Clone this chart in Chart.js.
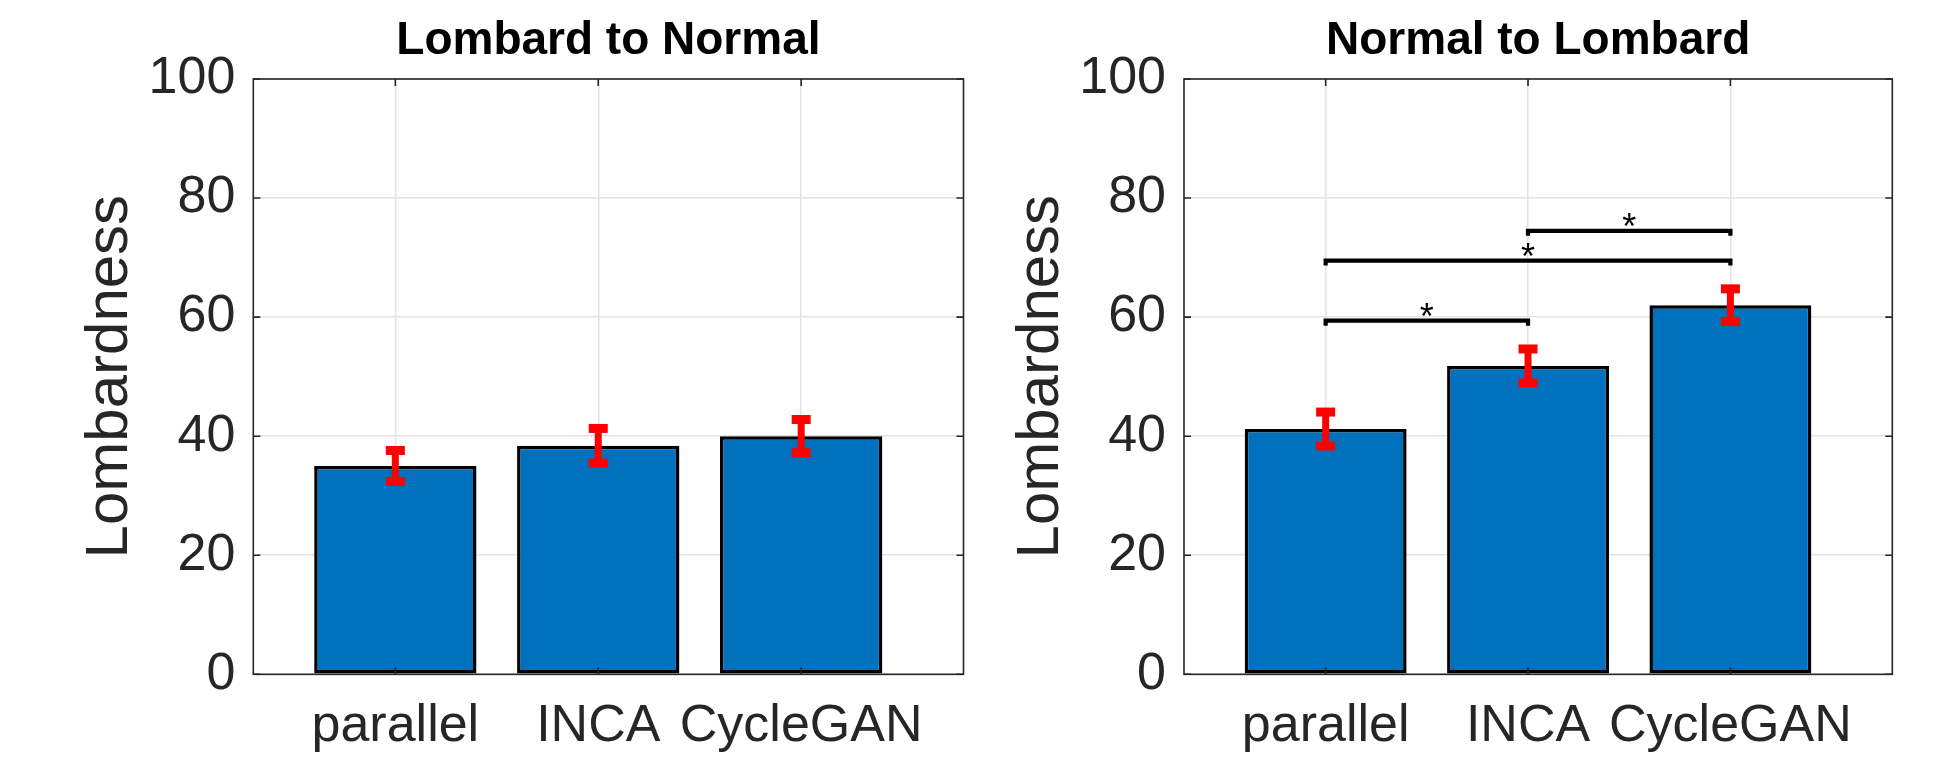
<!DOCTYPE html>
<html><head><meta charset="utf-8">
<script src="https://cdn.jsdelivr.net/npm/chart.js@4/dist/chart.umd.min.js"></script>
<style>
html,body{margin:0;padding:0;background:#fff;}
#wrap{position:relative;width:1943px;height:765px;background:#fff;}
canvas{position:absolute;top:0;}
</style></head><body>
<div id="wrap">
<canvas id="c1" width="980" height="765" style="left:0"></canvas>
<canvas id="c2" width="963" height="765" style="left:980px"></canvas>
</div>
<script>
// ---- data ----
const categories = ['parallel', 'INCA', 'CycleGAN'];
const titles = ['Lombard to Normal', 'Normal to Lombard'];
const yLabel = 'Lombardness';
const yTicks = [0, 20, 40, 60, 80, 100];
const lombardToNormal = [35, 38.4, 40];
const lombardToNormalErr = [2.6, 2.9, 2.8];
const normalToLombard = [41.2, 51.8, 62];
const normalToLombardErr = [2.85, 2.85, 2.75];
const sigPairs = [[0, 1], [0, 2], [1, 2]];
const sigHeights = [59.4, 69.5, 74.5];
const sigLabels = ['*', '*', '*'];

// ---- styling ----
const FONT = '"Liberation Sans", Arial, Helvetica, sans-serif';
const AXIS = '#262626';

const overlay = {
  id: 'overlay',
  afterDatasetsDraw(chart, args, opts) {
    const {ctx, chartArea: a, scales: {x, y}} = chart;
    ctx.save();
    // error bars
    ctx.fillStyle = '#ff0000';
    opts.values.forEach((v, i) => {
      const px = x.getPixelForValue(i + 1);
      const top = y.getPixelForValue(v + opts.err[i]);
      const bot = y.getPixelForValue(v - opts.err[i]);
      ctx.fillRect(px - 3.5, top, 7, bot - top);
      ctx.fillRect(px - 9.5, top - 4.5, 19, 9);
      ctx.fillRect(px - 9.5, bot - 4.5, 19, 9);
    });
    // axes box
    ctx.strokeStyle = AXIS;
    ctx.lineWidth = 1.6;
    ctx.strokeRect(a.left, a.top, a.right - a.left, a.bottom - a.top);
    // inward ticks
    ctx.beginPath();
    y.ticks.forEach(t => {
      const py = y.getPixelForValue(t.value);
      ctx.moveTo(a.left, py); ctx.lineTo(a.left + 7, py);
      ctx.moveTo(a.right, py); ctx.lineTo(a.right - 7, py);
    });
    x.ticks.forEach(t => {
      const px = x.getPixelForValue(t.value);
      ctx.moveTo(px, a.bottom); ctx.lineTo(px, a.bottom - 7);
      ctx.moveTo(px, a.top); ctx.lineTo(px, a.top + 7);
    });
    ctx.stroke();
    // significance brackets
    if (opts.sig) {
      const drop = 0.84;
      sigPairs.forEach(([i, j], k) => {
        const x1 = x.getPixelForValue(i + 1), x2 = x.getPixelForValue(j + 1);
        const yl = y.getPixelForValue(sigHeights[k]);
        const yd = y.getPixelForValue(sigHeights[k] - drop);
        ctx.beginPath();
        ctx.moveTo(x1, yd); ctx.lineTo(x1, yl); ctx.lineTo(x2, yl); ctx.lineTo(x2, yd);
        ctx.lineWidth = 4.2; ctx.strokeStyle = '#000'; ctx.lineJoin = 'miter'; ctx.lineCap = 'butt';
        ctx.stroke();
        ctx.font = '36px ' + FONT;
        ctx.fillStyle = '#000';
        ctx.textAlign = 'center';
        ctx.textBaseline = 'alphabetic';
        const m = ctx.measureText(sigLabels[k]);
        const cy = yl - 10.7;
        const base = cy + (m.actualBoundingBoxAscent - m.actualBoundingBoxDescent) / 2;
        ctx.fillText(sigLabels[k], (x1 + x2) / 2, base);
      });
    }
    ctx.restore();
  }
};

function makeChart(id, title, values, err, sig, padLeft, padRight) {
  return new Chart(document.getElementById(id), {
    type: 'bar',
    data: {
      datasets: [{
        data: categories.map((c, i) => ({x: i + 1, y: values[i]})),
        backgroundColor: '#0072BD',
        borderColor: '#000000',
        borderWidth: 3.5,
        borderSkipped: false,
        categoryPercentage: 1.0,
        barPercentage: 0.8
      }]
    },
    options: {
      responsive: false,
      animation: false,
      events: [],
      layout: {padding: {left: padLeft, right: padRight, top: 0, bottom: 0}},
      plugins: {
        legend: {display: false},
        tooltip: {enabled: false},
        title: {
          display: true, text: title, fullSize: false, color: '#000',
          font: {family: FONT, size: 46, weight: 'bold'},
          padding: {top: 14, bottom: 9.8}
        },
        overlay: {values: values, err: err, sig: sig}
      },
      scales: {
        x: {
          type: 'linear', min: 0.3, max: 3.8, offset: false, bounds: 'data',
          afterBuildTicks: s => { s.ticks = categories.map((c, i) => ({value: i + 1})); },
          afterFit: s => { s.height = 90.7; },
          ticks: {
            autoSkip: false, maxRotation: 0, minRotation: 0, padding: 21.5,
            color: AXIS, font: {family: FONT, size: 52},
            callback: (v, i) => categories[i]
          },
          grid: {color: '#e3e3e3', lineWidth: 1.5, drawTicks: false, offset: false},
          border: {display: false}
        },
        y: {
          min: 0, max: 100,
          afterBuildTicks: s => { s.ticks = yTicks.map(v => ({value: v})); },
          afterFit: s => { s.width = 204; },
          ticks: {padding: 18, color: AXIS, font: {family: FONT, size: 52}},
          grid: {color: '#e3e3e3', lineWidth: 1.5, drawTicks: false},
          border: {display: false},
          title: {
            display: true, text: yLabel, color: AXIS,
            font: {family: FONT, size: 60}, padding: {top: 25.6, bottom: 0}
          }
        }
      }
    },
    plugins: [overlay]
  });
}

makeChart('c1', titles[0], lombardToNormal, lombardToNormalErr, false, 49.3, 16.5);
makeChart('c2', titles[1], normalToLombard, normalToLombardErr, true, 0, 50.7);
</script>
</body></html>
